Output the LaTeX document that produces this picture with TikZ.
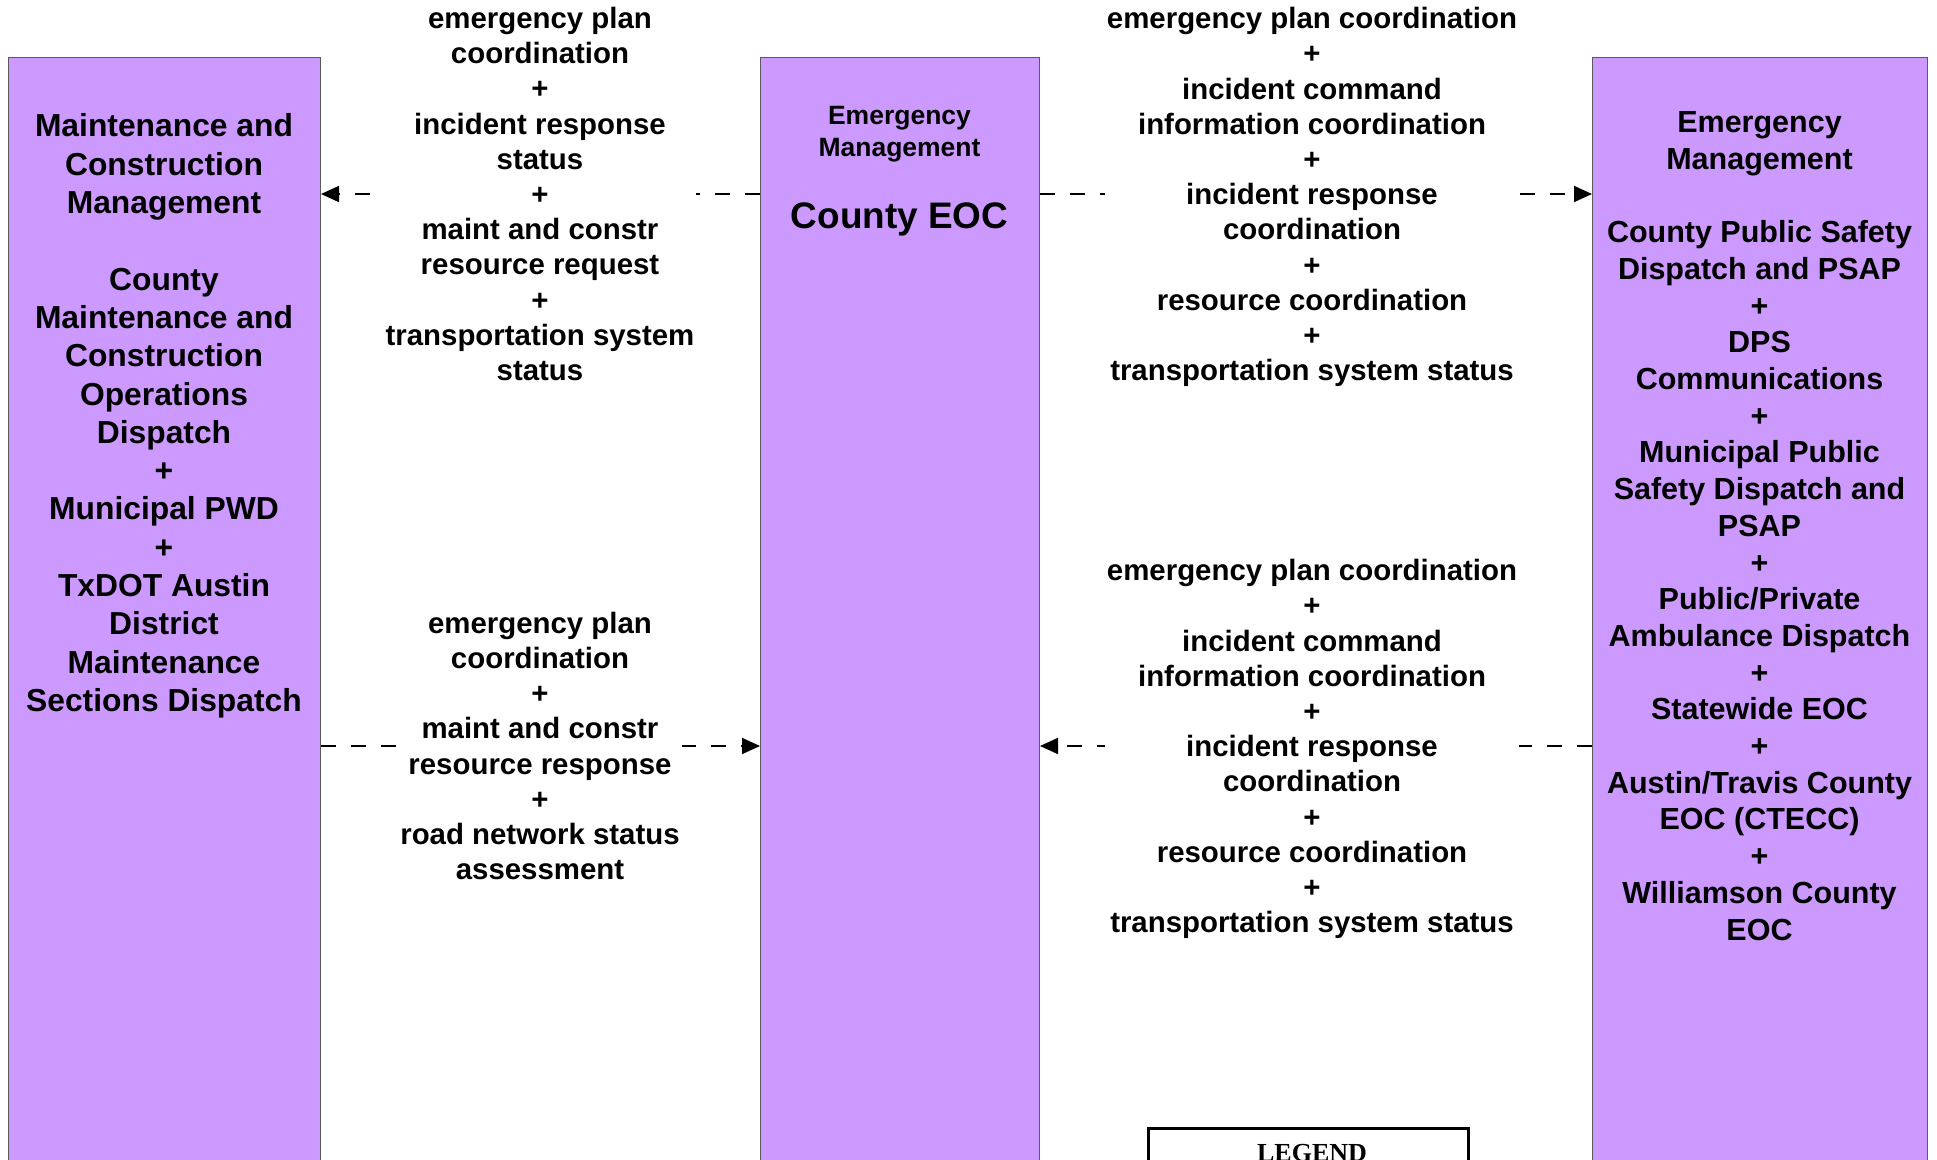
\documentclass[tikz,border=0pt]{standalone}
\usepackage{fontspec}
\setmainfont{Liberation Sans}
\newfontfamily\legendfont{Liberation Serif}
\usetikzlibrary{arrows.meta}
\definecolor{boxfill}{RGB}{204,153,255}
\definecolor{boxline}{RGB}{90,90,90}
\tikzset{
  sysbox/.style={draw=boxline, fill=boxfill, line width=1pt, anchor=north west, inner sep=0pt, minimum height=1200pt},
  flowline/.style={line width=1.8pt, dash pattern=on 15pt off 15pt, -{Triangle[length=18pt,width=16pt]}},
  flowlabel/.style={fill=white, inner sep=2pt, align=center, font=\fontsize{29.4}{35.2}\selectfont\bfseries},
}
\begin{document}
\begin{tikzpicture}[x=1pt,y=-1pt]
\useasboundingbox (0,0) rectangle (1937,1159);
\clip (0,0) rectangle (1937,1159);
% boxes
\node[sysbox, minimum width=312pt] (left) at (8,57) {};
\node[sysbox, minimum width=279pt] (mid) at (760,57) {};
\node[sysbox, minimum width=335pt] (right) at (1592,57) {};
% box texts
\node[align=center, font=\fontsize{31.8}{38.3}\selectfont\bfseries] (lefttext) at (164,416) {Maintenance and\\Construction\\Management\\[38.3pt]County\\Maintenance and\\Construction\\Operations\\Dispatch\\+\\Municipal PWD\\+\\TxDOT Austin\\District\\Maintenance\\Sections Dispatch};
\node[align=center, font=\fontsize{26.5}{32}\selectfont\bfseries] (midtitle) at (899.5,134) {Emergency\\Management};
\node[font=\fontsize{36.9}{44}\selectfont\bfseries] (midname) at (899.5,219.5) {County EOC};
\node[align=center, font=\fontsize{30.5}{36.7}\selectfont\bfseries] (righttext) at (1759.5,526) {Emergency\\Management\\[36.7pt]County Public Safety\\Dispatch and PSAP\\+\\DPS\\Communications\\+\\Municipal Public\\Safety Dispatch and\\PSAP\\+\\Public/Private\\Ambulance Dispatch\\+\\Statewide EOC\\+\\Austin/Travis County\\EOC (CTECC)\\+\\Williamson County\\EOC};
% connectors
\draw[flowline] (mid.west |- 0,194) -- (left.east |- 0,194);
\draw[flowline] (mid.east |- 0,194) -- (right.west |- 0,194);
\draw[flowline] (left.east |- 0,746) -- (mid.west |- 0,746);
\draw[flowline] (right.west |- 0,746) -- (mid.east |- 0,746);
% labels
\node[flowlabel] (lab1) at (540,194) {emergency plan\\coordination\\+\\incident response\\status\\+\\maint and constr\\resource request\\+\\transportation system\\status};
\node[flowlabel] (lab2) at (1312,197) {emergency plan coordination\\+\\incident command\\information coordination\\+\\incident response\\coordination\\+\\resource coordination\\+\\transportation system status};
\node[flowlabel] (lab3) at (540,746) {emergency plan\\coordination\\+\\maint and constr\\resource response\\+\\road network status\\assessment};
\node[flowlabel] (lab4) at (1312,749) {emergency plan coordination\\+\\incident command\\information coordination\\+\\incident response\\coordination\\+\\resource coordination\\+\\transportation system status};
% legend
\node[draw=black, line width=2.5pt, anchor=north west, minimum width=320pt, minimum height=200pt, inner sep=0pt] (legend) at (1147,1127) {};
\node[anchor=base, font=\legendfont\fontsize{26}{30}\selectfont\bfseries, inner sep=0pt] (legendtitle) at (1312,1161) {LEGEND};
\end{tikzpicture}
\end{document}
